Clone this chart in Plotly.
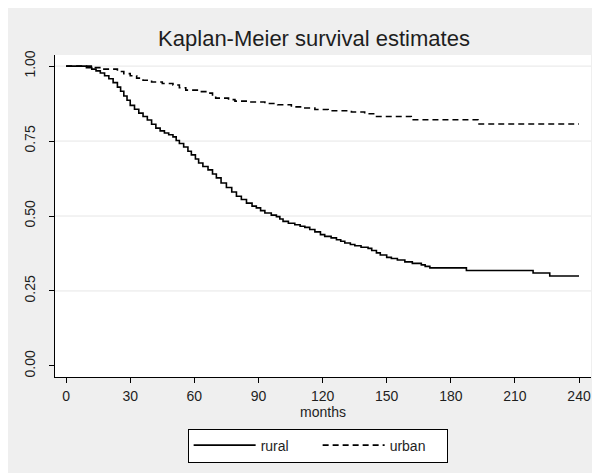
import plotly.graph_objects as go

# ---- data ----
rural_t = [0, 9.5, 12, 14, 16, 18, 20, 22, 24, 25.5, 27, 28.5, 30, 32, 34, 36, 38, 40, 42, 44,
           46, 48, 50, 51.5, 53, 55, 57, 58.6, 60.5, 62, 64, 66.4, 68.5, 70.3, 72.5, 75, 77.5,
           79.7, 82, 84.4, 87, 89, 91, 93, 96, 98.4, 100, 101.5, 104, 107, 109.5, 111.7, 114,
           116.4, 119, 121, 124, 126.5, 128.5, 130.4, 133, 135.1, 138, 141.3, 143, 145.2, 147,
           150, 152.2, 155, 158.5, 162, 166.2, 168, 170.2, 187.3, 218.5, 226.3, 240]
rural_s = [1.0, 0.995, 0.99, 0.984, 0.977, 0.968, 0.958, 0.945, 0.93, 0.916, 0.9, 0.886, 0.869,
           0.856, 0.843, 0.832, 0.82, 0.806, 0.793, 0.784, 0.777, 0.771, 0.764, 0.752, 0.742,
           0.73, 0.716, 0.704, 0.69, 0.677, 0.665, 0.654, 0.64, 0.627, 0.61, 0.595, 0.58, 0.566,
           0.555, 0.543, 0.533, 0.527, 0.518, 0.51, 0.503, 0.498, 0.49, 0.482, 0.476, 0.471,
           0.466, 0.462, 0.455, 0.447, 0.438, 0.432, 0.427, 0.421, 0.416, 0.41, 0.405, 0.401,
           0.396, 0.392, 0.385, 0.377, 0.37, 0.362, 0.358, 0.353, 0.347, 0.342, 0.337, 0.332,
           0.327, 0.318, 0.31, 0.30, 0.30]

urban_t = [0, 12.5, 17, 24, 27, 30, 33, 36, 40, 45, 50, 53, 56, 62, 66, 68.5, 70, 76, 79, 85,
           93, 99, 105.4, 111.7, 116.4, 122.6, 133.5, 139.7, 144.4, 161.5, 192.7, 240]
urban_s = [1.0, 0.995, 0.99, 0.982, 0.975, 0.968, 0.96, 0.953, 0.947, 0.942, 0.937, 0.928,
           0.92, 0.915, 0.91, 0.9, 0.893, 0.888, 0.883, 0.88, 0.875, 0.871, 0.864, 0.86, 0.855,
           0.851, 0.847, 0.841, 0.832, 0.821, 0.807, 0.807]

x_ticks = [0, 30, 60, 90, 120, 150, 180, 210, 240]
y_ticks = [0, 0.25, 0.5, 0.75, 1.0]
y_ticktext = ["0.00", "0.25", "0.50", "0.75", "1.00"]
grid_vals = [0.25, 0.5, 0.75, 1.0]

FONT = "Arial, 'Liberation Sans', sans-serif"
TXT = "#1e1e1e"

fig = go.Figure()
fig.add_trace(go.Scatter(x=rural_t, y=rural_s, mode="lines", line_shape="hv", name="rural",
                         line=dict(color="black", width=1.6)))
fig.add_trace(go.Scatter(x=urban_t, y=urban_s, mode="lines", line_shape="hv", name="urban",
                         line=dict(color="black", width=1.6, dash="6px,4px")))

shapes = [dict(type="line", xref="paper", x0=0, x1=1, yref="y", y0=g, y1=g,
               line=dict(color="#e6e6e6", width=1), layer="below") for g in grid_vals]

fig.update_layout(
    width=600, height=473,
    margin=dict(l=47, r=17, t=47, b=104, autoexpand=False),
    paper_bgcolor="#efefef",
    plot_bgcolor="white",
    font=dict(family=FONT, size=14, color=TXT),
    title=dict(text="Kaplan-Meier survival estimates", x=0.51, xanchor="center",
               y=1 - 30 / 473, yanchor="middle", yref="container",
               font=dict(family=FONT, size=22, color=TXT)),
    shapes=shapes,
    showlegend=True,
    legend=dict(orientation="h", x=0.49, xanchor="center", y=-0.16, yanchor="top",
                bgcolor="white", bordercolor="black", borderwidth=1,
                font=dict(family=FONT, size=14, color=TXT),
                entrywidth=52, entrywidthmode="pixels", itemwidth=62),
)
fig.update_xaxes(range=[-5.2, 245.6], tickvals=x_ticks, ticks="outside", ticklen=5,
                 tickcolor="black", showline=True, linecolor="black", linewidth=1,
                 showgrid=False, zeroline=False, ticklabelstandoff=1, automargin=False,
                 tickfont=dict(family=FONT, size=14, color=TXT),
                 title=dict(text="months", standoff=0,
                            font=dict(family=FONT, size=14, color=TXT)))
fig.update_yaxes(range=[-0.037, 1.037], tickvals=y_ticks, ticktext=y_ticktext,
                 ticks="outside", ticklen=5, tickcolor="black", tickangle=-90,
                 showline=True, linecolor="black", linewidth=1,
                 showgrid=False, zeroline=False, ticklabelstandoff=8, automargin=False,
                 tickfont=dict(family=FONT, size=14, color=TXT))

fig.write_html("out.html")
